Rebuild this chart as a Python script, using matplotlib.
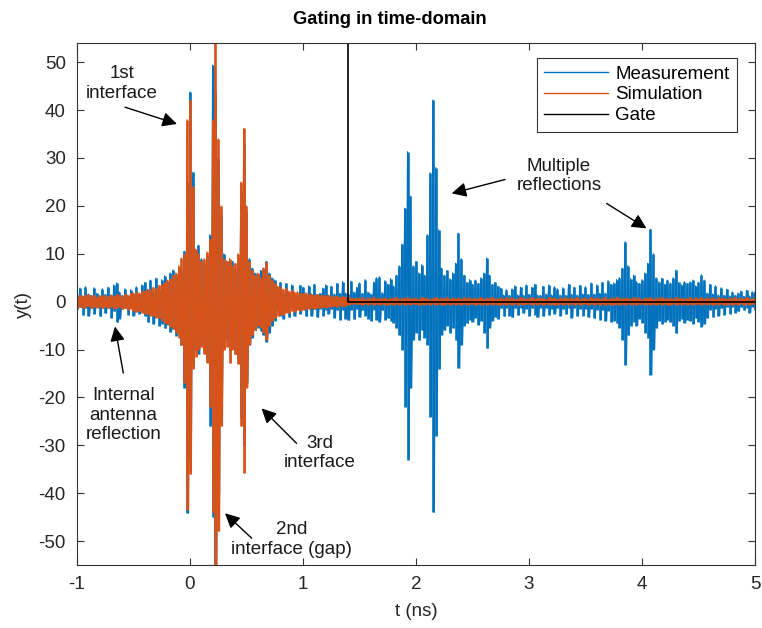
import numpy as np
import matplotlib.pyplot as plt
from matplotlib.lines import Line2D

plt.rcParams['font.family'] = ['Liberation Sans', 'DejaVu Sans']
plt.rcParams['axes.unicode_minus'] = False

# time grid of the envelope samples (ns)
t_start, t_step = -1.0, 0.025

# measured trace: upper / lower swing at each sample
meas_hi = [
    1.4, 2.8, 1.2, 3.1, 1.6, 1.3, 2.9, 1.7, 1.1, 2.7,
    1.5, 3.0, 1.4, 3.5, 3.9, 2.0, 1.3, 2.7, 1.2, 2.5,
    1.6, 3.1, 1.5, 3.5, 4.0, 1.8, 4.5, 2.0, 4.9, 2.4,
    4.6, 5.4, 4.2, 6.0, 6.6, 5.3, 7.0, 6.2, 10.5, 25.0,
    43.8, 27.0, 10.0, 11.8, 9.0, 8.0, 9.5, 14.0, 49.4, 44.0,
    30.0, 18.0, 10.0, 8.5, 7.5, 8.4, 7.0, 9.0, 23.0, 33.0,
    19.0, 9.0, 7.0, 6.0, 5.5, 6.5, 7.0, 8.4, 6.0, 5.0,
    4.5, 2.0, 4.0, 1.8, 3.8, 1.5, 3.5, 1.6, 1.4, 3.4,
    3.0, 1.4, 3.3, 1.6, 3.6, 1.5, 1.7, 2.8, 3.5, 1.4,
    3.2, 1.6, 3.8, 1.7, 4.2, 1.8, 1.6, 4.3, 2.0, 3.0,
    3.9, 1.7, 4.6, 2.0, 1.6, 4.1, 5.0, 5.2, 1.9, 4.4,
    3.6, 4.8, 3.3, 5.5, 7.5, 12.0, 19.5, 31.3, 22.0, 7.5,
    8.4, 6.0, 7.7, 5.5, 14.0, 26.9, 42.1, 28.0, 15.0, 7.0,
    5.5, 6.5, 4.8, 6.0, 8.0, 14.3, 9.0, 5.5, 4.0, 4.6,
    3.6, 4.5, 3.8, 5.0, 6.0, 9.1, 5.5, 3.6, 4.0, 3.2,
    2.8, 1.4, 2.5, 1.3, 2.7, 3.3, 1.4, 3.0, 1.3, 3.5,
    1.5, 3.0, 3.6, 1.4, 1.3, 3.2, 1.6, 3.5, 1.4, 3.1,
    2.7, 1.4, 2.9, 1.3, 3.6, 1.5, 3.0, 1.4, 3.4, 1.6,
    3.1, 1.5, 3.9, 1.6, 3.5, 1.7, 4.0, 1.8, 4.4, 3.6,
    3.9, 4.6, 5.0, 7.0, 12.5, 7.5, 4.8, 5.5, 4.2, 3.8,
    4.6, 6.0, 8.0, 15.1, 10.0, 5.0, 4.2, 4.9, 3.6, 4.5,
    3.9, 5.0, 6.6, 4.0, 3.5, 4.2, 3.8, 4.2, 4.5, 3.3,
    4.0, 5.6, 4.5, 1.8, 3.6, 1.6, 3.3, 1.4, 2.9, 1.3,
    2.6, 1.2, 2.0, 1.3, 1.8, 2.2, 1.1, 2.4, 1.2, 2.1,
    2.0,
]
meas_lo = [
    -1.5, -1.2, -2.8, -1.4, -3.0, -1.3, -2.5, -1.2, -3.1, -1.4,
    -2.4, -1.4, -3.4, -2.0, -4.3, -3.6, -1.5, -1.3, -2.8, -1.4,
    -2.9, -1.6, -2.5, -1.8, -3.1, -4.3, -2.0, -4.7, -2.2, -5.1,
    -4.6, -5.6, -4.8, -6.3, -5.7, -7.1, -6.5, -9.0, -18.0, -44.2,
    -33.0, -13.0, -10.0, -11.0, -9.0, -10.5, -12.0, -26.0, -45.0, -56.0,
    -40.0, -20.0, -9.0, -8.0, -10.0, -9.0, -11.0, -12.0, -24.0, -30.0,
    -17.0, -9.0, -7.5, -6.0, -5.5, -6.2, -7.0, -8.4, -6.5, -5.0,
    -4.0, -1.8, -3.0, -3.6, -1.5, -3.3, -1.4, -3.1, -1.6, -2.5,
    -1.5, -3.1, -1.4, -3.0, -1.6, -3.3, -1.5, -2.9, -1.7, -2.5,
    -1.6, -3.4, -1.7, -3.8, -1.8, -3.6, -3.9, -1.7, -3.7, -1.6,
    -3.3, -1.8, -2.9, -3.6, -4.0, -1.7, -3.9, -4.2, -1.8, -3.8,
    -3.5, -4.0, -4.4, -5.5, -7.0, -10.0, -22.0, -33.0, -18.0, -8.0,
    -6.5, -8.0, -6.0, -7.5, -9.0, -24.0, -44.0, -28.0, -14.0, -7.0,
    -6.0, -5.0, -6.5, -5.5, -8.0, -13.9, -9.0, -5.0, -4.5, -3.8,
    -4.2, -3.4, -4.8, -4.0, -6.5, -9.7, -5.5, -4.0, -3.3, -3.6,
    -1.4, -3.1, -1.3, -2.9, -3.3, -1.4, -2.8, -1.3, -2.4, -1.5,
    -2.9, -1.4, -2.7, -3.3, -1.3, -3.0, -1.4, -2.8, -1.5, -2.5,
    -1.4, -2.9, -1.5, -2.6, -1.4, -3.4, -1.3, -3.0, -1.5, -2.9,
    -1.6, -3.3, -1.5, -3.5, -1.7, -3.8, -1.8, -4.0, -1.9, -4.2,
    -4.0, -4.5, -5.5, -8.0, -13.2, -7.0, -5.0, -4.2, -5.0, -3.6,
    -4.4, -6.5, -7.5, -15.3, -10.0, -5.5, -4.0, -4.6, -4.2, -3.8,
    -4.3, -5.0, -6.6, -4.0, -3.6, -4.4, -3.9, -4.0, -4.6, -3.5,
    -4.2, -5.2, -4.6, -3.4, -1.7, -3.2, -1.5, -3.0, -1.4, -2.7,
    -1.2, -2.5, -1.1, -2.3, -2.0, -1.2, -1.8, -1.3, -2.3, -1.1,
    -1.8,
]

# simulated trace on the same grid
sim_hi = [
    1.2, 1.4, 1.1, 1.3, 1.5, 1.2, 1.4, 1.0, 1.3, 1.2,
    1.3, 1.1, 1.4, 1.2, 1.5, 1.3, 1.2, 1.6, 1.4, 1.7,
    1.8, 2.0, 1.9, 2.3, 2.2, 2.6, 2.5, 3.0, 2.8, 3.4,
    3.6, 4.0, 4.5, 4.8, 5.5, 6.0, 7.5, 9.1, 10.0, 38.0,
    42.0, 24.0, 11.0, 10.0, 8.5, 9.0, 10.4, 13.0, 38.0, 54.0,
    34.0, 20.0, 9.0, 8.4, 9.0, 7.5, 8.0, 10.0, 25.0, 36.2,
    20.0, 8.5, 6.5, 5.5, 6.0, 5.0, 7.0, 8.2, 5.5, 4.5,
    3.8, 3.2, 3.0, 2.6, 2.8, 2.2, 2.4, 2.0, 2.1, 1.8,
    1.7, 1.9, 1.5, 1.6, 1.4, 1.5, 1.3, 1.4, 1.2, 1.3,
    1.2, 1.1, 1.2, 1.0, 1.1, 0.9, 1.0, 0.8, 0.7, 0.8,
    0.7, 0.9, 0.6, 0.8, 0.7, 0.9, 0.6, 0.8, 0.7, 0.8,
    0.6, 0.8, 0.7, 0.9, 0.6, 0.8, 0.7, 0.9, 0.6, 0.7,
    0.8, 0.6, 0.9, 0.7, 0.8, 0.6, 0.7, 0.9, 0.6, 0.8,
    0.7, 0.9, 0.6, 0.8, 0.7, 0.8, 0.6, 0.9, 0.7, 0.8,
    0.6, 0.8, 0.7, 0.9, 0.6, 0.8, 0.7, 0.9, 0.6, 0.7,
    0.8, 0.6, 0.9, 0.7, 0.8, 0.6, 0.7, 0.9, 0.6, 0.8,
    0.7, 0.9, 0.6, 0.8, 0.7, 0.8, 0.6, 0.9, 0.7, 0.8,
    0.6, 0.8, 0.7, 0.9, 0.6, 0.8, 0.7, 0.9, 0.6, 0.7,
    0.8, 0.6, 0.9, 0.7, 0.8, 0.6, 0.7, 0.9, 0.6, 0.8,
    0.7, 0.9, 0.6, 0.8, 0.7, 0.8, 0.6, 0.9, 0.7, 0.8,
    0.6, 0.8, 0.7, 0.9, 0.6, 0.8, 0.7, 0.9, 0.6, 0.7,
    0.8, 0.6, 0.9, 0.7, 0.8, 0.6, 0.7, 0.9, 0.6, 0.8,
    0.7, 0.9, 0.6, 0.8, 0.7, 0.8, 0.6, 0.9, 0.7, 0.8,
    0.6, 0.8, 0.7, 0.9, 0.6, 0.8, 0.7, 0.9, 0.6, 0.7,
    0.7,
]
sim_lo = [
    -1.3, -1.1, -1.4, -1.2, -1.0, -1.4, -1.2, -1.3, -1.1, -1.4,
    -1.2, -1.4, -1.1, -1.5, -1.3, -1.2, -1.6, -1.4, -1.7, -1.5,
    -1.9, -2.1, -2.0, -2.4, -2.6, -2.5, -3.0, -2.9, -3.4, -3.5,
    -4.0, -4.4, -4.6, -5.2, -5.8, -6.5, -7.5, -9.0, -17.0, -43.5,
    -36.0, -14.0, -11.5, -10.0, -9.5, -11.0, -12.8, -22.0, -44.0, -56.0,
    -48.0, -26.0, -10.0, -9.5, -12.8, -10.0, -11.0, -13.0, -26.0, -35.8,
    -18.0, -9.0, -7.0, -6.0, -5.0, -5.5, -6.5, -8.0, -5.0, -4.0,
    -3.5, -3.0, -2.7, -2.8, -2.3, -2.4, -2.0, -2.2, -1.8, -1.9,
    -1.8, -1.5, -1.6, -1.4, -1.5, -1.3, -1.4, -1.2, -1.3, -1.1,
    -1.1, -1.0, -1.1, -0.9, -1.0, -0.9, -0.8, -0.6, -0.5, -0.6,
    -0.6, -0.8, -0.5, -0.7, -0.6, -0.8, -0.5, -0.7, -0.6, -0.7,
    -0.7, -0.5, -0.8, -0.6, -0.7, -0.5, -0.8, -0.6, -0.7, -0.6,
    -0.6, -0.8, -0.5, -0.7, -0.6, -0.8, -0.5, -0.7, -0.6, -0.7,
    -0.7, -0.5, -0.8, -0.6, -0.7, -0.5, -0.8, -0.6, -0.7, -0.6,
    -0.6, -0.8, -0.5, -0.7, -0.6, -0.8, -0.5, -0.7, -0.6, -0.7,
    -0.7, -0.5, -0.8, -0.6, -0.7, -0.5, -0.8, -0.6, -0.7, -0.6,
    -0.6, -0.8, -0.5, -0.7, -0.6, -0.8, -0.5, -0.7, -0.6, -0.7,
    -0.7, -0.5, -0.8, -0.6, -0.7, -0.5, -0.8, -0.6, -0.7, -0.6,
    -0.6, -0.8, -0.5, -0.7, -0.6, -0.8, -0.5, -0.7, -0.6, -0.7,
    -0.7, -0.5, -0.8, -0.6, -0.7, -0.5, -0.8, -0.6, -0.7, -0.6,
    -0.6, -0.8, -0.5, -0.7, -0.6, -0.8, -0.5, -0.7, -0.6, -0.7,
    -0.7, -0.5, -0.8, -0.6, -0.7, -0.5, -0.8, -0.6, -0.7, -0.6,
    -0.6, -0.8, -0.5, -0.7, -0.6, -0.8, -0.5, -0.7, -0.6, -0.7,
    -0.7, -0.5, -0.8, -0.6, -0.7, -0.5, -0.8, -0.6, -0.7, -0.6,
    -0.6,
]

# time gate window
gate_t = [-1.0, 1.4, 1.4, 5.0]
gate_y = [54.0, 54.0, 0.0, 0.0]

# annotation labels: (text, text pos, arrow tail, arrow head)
notes = [
    ('1st\ninterface', (-0.605, 45.6), (-0.575, 40.6), (-0.115, 37.1)),
    ('Internal\nantenna\nreflection', (-0.59, -23.7), (-0.59, -14.9), (-0.664, -5.2)),
    ('3rd\ninterface', (1.15, -31.6), (0.944, -29.6), (0.634, -22.3)),
    ('2nd\ninterface (gap)', (0.9, -49.7), (0.546, -49.4), (0.31, -44.2)),
    ('Multiple\nreflections', (3.265, 26.2), (2.788, 25.5), (2.316, 22.6)),
    (None, None, (3.687, 20.5), (4.04, 15.3)),
]

c_meas, c_sim = '#0072BD', '#D95319'
fs = 13.5


def draw_trace(ax, hi, lo, color):
    # each sample column spans its lower to upper swing, plus a zigzag
    # through the swings for the spiky edge
    hi = np.asarray(hi, dtype=float)
    lo = np.asarray(lo, dtype=float)
    t = t_start + t_step * np.arange(len(hi))
    ax.vlines(t, lo, hi, colors=color, lw=1.9)
    x = np.empty(2 * len(hi))
    y = np.empty(2 * len(hi))
    x[0::2], x[1::2] = t, t + t_step / 2
    y[0::2], y[1::2] = hi, lo
    ax.plot(x, y, color=color, lw=0.8)


fig = plt.figure(figsize=(7.62, 6.28), dpi=100)
ax = fig.add_axes([0.101, 0.1003, 0.8898, 0.8312])

draw_trace(ax, meas_hi, meas_lo, c_meas)
draw_trace(ax, sim_hi, sim_lo, c_sim)
ax.plot(gate_t, gate_y, color='black', lw=1.2)

for text, tpos, tail, head in notes:
    if text is not None:
        ax.text(tpos[0], tpos[1], text, ha='center', va='center',
                fontsize=fs, color='#1a1a1a', linespacing=1.2)
    ax.annotate('', xy=head, xytext=tail,
                arrowprops=dict(arrowstyle='-|>', color='black', lw=1.0,
                                mutation_scale=22, shrinkA=0, shrinkB=0))

ax.set_xlim(-1, 5)
ax.set_ylim(-55, 54)
ax.set_xticks(np.arange(-1, 6, 1))
ax.set_yticks(np.arange(-50, 51, 10))
ax.tick_params(direction='in', top=True, right=True, length=5, width=0.8,
               color='#333333', labelsize=fs, labelcolor='#262626', pad=8)
for s in ax.spines.values():
    s.set_color('#333333')
    s.set_linewidth(0.8)

ax.set_title('Gating in time-domain', fontweight='bold', fontsize=13.2,
             pad=14, x=0.4617)
ax.set_xlabel('t (ns)', fontsize=fs, color='#262626', labelpad=7)
ax.set_ylabel('y(t)', fontsize=fs, color='#262626', labelpad=5)

handles = [Line2D([], [], color=c_meas, lw=1.0),
           Line2D([], [], color=c_sim, lw=1.0),
           Line2D([], [], color='black', lw=1.0)]
leg = ax.legend(handles, ['Measurement', 'Simulation', 'Gate'],
                loc='upper right', bbox_to_anchor=(0.9735, 0.9713),
                borderaxespad=0, fontsize=fs, handlelength=3.4,
                labelspacing=0.2, fancybox=False, framealpha=1,
                edgecolor='#333333', borderpad=0.4, handletextpad=0.4)
leg.get_frame().set_linewidth(0.8)

fig.savefig('out.png', dpi=100)
